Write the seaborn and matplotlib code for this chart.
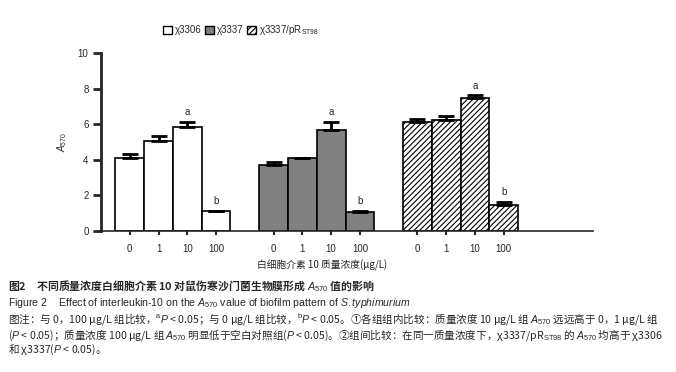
import numpy as np
import pandas as pd
import matplotlib
matplotlib.use('Agg')
import matplotlib.pyplot as plt
import seaborn as sns
from matplotlib.patches import Patch

# --- datos ---
strains = ['χ3306', 'χ3337', 'χ3337/pR$_{\\rm ST98}$']
concs = ['0', '1', '10', '100']
a570_3306 = [4.10, 5.05, 5.87, 1.10]
err_3306 = [0.24, 0.30, 0.28, 0.03]
a570_3337 = [3.72, 4.08, 5.68, 1.06]
err_3337 = [0.17, 0.04, 0.47, 0.08]
a570_st98 = [6.11, 6.22, 7.47, 1.48]
err_st98 = [0.17, 0.25, 0.17, 0.17]
letters = ['', '', 'a', 'b']

colors = ['white', '#808080', 'white']

rows = []
for g, (s, vals, errs) in enumerate(zip(strains, [a570_3306, a570_3337, a570_st98],
                                        [err_3306, err_3337, err_st98])):
    for i, c in enumerate(concs):
        rows.append({'strain': s, 'conc': c, 'pos': g * 5 + i,
                     'value': vals[i], 'err': errs[i], 'letter': letters[i]})
df = pd.DataFrame(rows)

sns.set_style('white')
plt.rcParams['font.family'] = ['Liberation Sans', 'Noto Sans CJK SC', 'DejaVu Sans']
plt.rcParams['mathtext.fontset'] = 'custom'
plt.rcParams['mathtext.rm'] = 'Liberation Sans'
plt.rcParams['mathtext.it'] = 'Liberation Sans:italic'
plt.rcParams['mathtext.bf'] = 'Liberation Sans:bold'
plt.rcParams['hatch.linewidth'] = 0.8

fig = plt.figure(figsize=(6.76, 3.72), dpi=100)
ax = fig.add_axes([101 / 676, 1 - 231 / 372, (593 - 101) / 676, (231 - 53) / 372])

sns.barplot(data=df, x='pos', y='value', hue='strain', hue_order=strains,
            palette=colors, native_scale=True, dodge=False, width=1.0,
            errorbar=None, edgecolor='black', linewidth=1.2, legend=False, ax=ax)

for bar in ax.containers[2]:
    bar.set_hatch('//////')

# barras de error solo hacia arriba
ax.errorbar(df['pos'], df['value'], yerr=[np.zeros(len(df)), df['err']],
            fmt='none', ecolor='black', elinewidth=2, capsize=6, capthick=2)

for _, r in df.iterrows():
    if r['letter']:
        ax.text(r['pos'], r['value'] + r['err'] + 0.25, r['letter'],
                ha='center', va='bottom', fontsize=7)

ax.set_xlim(-1.0, 16.1)
ax.set_ylim(0, 10)
ax.set_yticks([0, 2, 4, 6, 8, 10])
ax.set_xticks(df['pos'])
ax.set_xticklabels(df['conc'])
ax.set_xlabel('')
ax.set_ylabel('$A_{570}$', fontsize=7, labelpad=6)
sns.despine(ax=ax)
ax.spines['left'].set_linewidth(2)
ax.spines['bottom'].set_linewidth(1.2)
ax.tick_params(axis='y', direction='out', length=6, width=2, labelsize=7, pad=3, left=True)
ax.tick_params(axis='x', direction='out', length=3, width=1.5, labelsize=7, pad=6, bottom=True)

fig.text(322 / 676, 1 - 265 / 372, '白细胞介素 10 质量浓度(μg/L)', ha='center', va='center',
         fontsize=7, family='Noto Sans CJK SC')

handles = [Patch(facecolor='white', edgecolor='black'),
           Patch(facecolor='#808080', edgecolor='black'),
           Patch(facecolor='white', edgecolor='black', hatch='//////')]
fig.legend(handles, strains, loc='center left', bbox_to_anchor=(158 / 676, 1 - 30 / 372),
           ncol=3, frameon=False, fontsize=7, handlelength=0.9, handleheight=0.9,
           handletextpad=0.3, columnspacing=0.4, borderpad=0)

# --- pie de figura ---
cap = [
    (286, '图2　不同质量浓度白细胞介素 10 对鼠伤寒沙门菌生物膜形成 $A_{570}$ 值的影响',
     'Noto Sans CJK SC', 'bold', 7.85),
    (303, 'Figure 2    Effect of interleukin-10 on the $A_{570}$ value of biofilm pattern of $\\mathit{S.typhimurium}$',
     'Liberation Sans', 'normal', 7.6),
    (319, '图注：与 0，100 μg/L 组比较，$^{\\rm a}$$P$ < 0.05；与 0 μg/L 组比较，$^{\\rm b}$$P$ < 0.05。①各组组内比较：质量浓度 10 μg/L 组 $A_{570}$ 远远高于 0，1 μg/L 组',
     'Noto Sans CJK SC', 'normal', 7.6),
    (335, '($P$ < 0.05)；质量浓度 100 μg/L 组 $A_{570}$ 明显低于空白对照组($P$ < 0.05)。②组间比较：在同一质量浓度下，χ3337/pR$_{\\rm ST98}$ 的 $A_{570}$ 均高于 χ3306',
     'Noto Sans CJK SC', 'normal', 7.6),
    (350, '和 χ3337($P$ < 0.05)。', 'Noto Sans CJK SC', 'normal', 7.6),
]
for y, txt, fam, wt, fs in cap:
    fig.text(8 / 676, 1 - y / 372, txt, ha='left', va='center', fontsize=fs,
             family=fam, fontweight=wt)

fig.savefig('out.png', dpi=100)
